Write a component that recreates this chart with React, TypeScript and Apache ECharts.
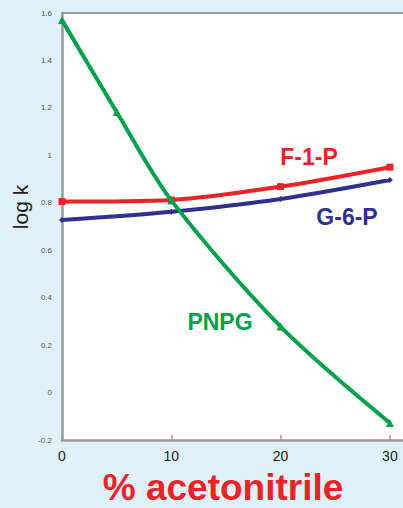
import React, { useEffect, useRef } from "react";
import * as echarts from "echarts";

const xValues = [0, 10, 20, 30];
const pnpgX = [0, 5, 10, 20, 30];
const f1pValues = [0.805, 0.812, 0.868, 0.95];
const g6pValues = [0.727, 0.762, 0.816, 0.896];
const pnpgValues = [1.57, 1.183, 0.81, 0.278, -0.128];
const seriesNames = ["F-1-P", "G-6-P", "PNPG"];
const xTicks = [0, 10, 20, 30];

const RED = "#ec2229";
const NAVY = "#2e3192";
const GREEN = "#00a14b";
const AXIS = "#9a9a9a";
const FONT = "Liberation Sans, Arial, sans-serif";

export default function App() {
  const ref = useRef<HTMLDivElement>(null);
  useEffect(() => {
    if (!ref.current) return;
    const chart = echarts.init(ref.current, undefined, { renderer: "svg" });
    const pair = (xs: number[], ys: number[]) => xs.map((x, i) => [x, ys[i]]);
    chart.setOption({
      animation: false,
      backgroundColor: "#dff0f9",
      grid: {
        left: 62,
        top: 13,
        right: 0,
        bottom: 68,
        show: true,
        backgroundColor: "#ffffff",
        borderWidth: 0,
      },
      xAxis: [
        {
          type: "value",
          min: 0,
          max: 31.2,
          interval: 10,
          splitLine: { show: false },
          axisLine: { onZero: false, lineStyle: { color: AXIS, width: 2.5 } },
          axisTick: { show: true, inside: true, length: 5, lineStyle: { color: AXIS, width: 1.5 } },
          axisLabel: {
            margin: 9,
            fontSize: 14,
            color: "#231f20",
            fontFamily: FONT,
            showMaxLabel: false,
            formatter: (v: number) => (xTicks.includes(v) ? String(v) : ""),
          },
        },
        {
          type: "value",
          position: "top",
          min: 0,
          max: 31.2,
          splitLine: { show: false },
          axisLine: { onZero: false, lineStyle: { color: AXIS, width: 2 } },
          axisTick: { show: false },
          axisLabel: { show: false },
        },
      ],
      yAxis: {
        type: "value",
        min: -0.2,
        max: 1.6,
        interval: 0.2,
        splitLine: { show: false },
        axisLine: { show: true, onZero: false, lineStyle: { color: AXIS, width: 2.5 } },
        axisTick: { show: false },
        axisLabel: {
          margin: 10,
          fontSize: 8,
          color: "#555555",
          fontFamily: FONT,
          formatter: (v: number) => String(Math.round(v * 10) / 10),
        },
      },
      series: [
        {
          name: seriesNames[0],
          type: "line",
          smooth: 0.3,
          data: pair(xValues, f1pValues),
          symbol: "rect",
          symbolSize: 7,
          itemStyle: { color: RED },
          lineStyle: { color: RED, width: 4 },
          z: 3,
        },
        {
          name: seriesNames[1],
          type: "line",
          smooth: 0.3,
          data: pair(xValues, g6pValues),
          symbol: "diamond",
          symbolSize: 6,
          itemStyle: { color: NAVY },
          lineStyle: { color: NAVY, width: 4 },
          z: 2,
        },
        {
          name: seriesNames[2],
          type: "line",
          smooth: 0.3,
          data: pair(pnpgX, pnpgValues),
          symbol: "triangle",
          symbolSize: 8,
          itemStyle: { color: GREEN },
          lineStyle: { color: GREEN, width: 4 },
          z: 4,
        },
      ],
      graphic: [
        {
          type: "text",
          x: 20,
          y: 207,
          rotation: Math.PI / 2,
          style: {
            text: "log k",
            font: `21px ${FONT}`,
            fill: "#231f20",
            textAlign: "center",
            textVerticalAlign: "middle",
          },
        },
        {
          type: "text",
          x: 223,
          y: 487,
          style: {
            text: "% acetonitrile",
            font: `bold 37px ${FONT}`,
            fill: RED,
            textAlign: "center",
            textVerticalAlign: "middle",
          },
        },
        {
          type: "text",
          x: 309,
          y: 157,
          style: {
            text: seriesNames[0],
            font: `bold 23px ${FONT}`,
            fill: RED,
            textAlign: "center",
            textVerticalAlign: "middle",
          },
        },
        {
          type: "text",
          x: 347,
          y: 217,
          style: {
            text: seriesNames[1],
            font: `bold 23px ${FONT}`,
            fill: NAVY,
            textAlign: "center",
            textVerticalAlign: "middle",
          },
        },
        {
          type: "text",
          x: 220,
          y: 322,
          style: {
            text: seriesNames[2],
            font: `bold 23px ${FONT}`,
            fill: GREEN,
            textAlign: "center",
            textVerticalAlign: "middle",
          },
        },
      ],
    });
    return () => chart.dispose();
  }, []);
  return (
    <div
      ref={ref}
      style={{ position: "fixed", left: 0, top: 0, width: 403, height: 508 }}
    />
  );
}
